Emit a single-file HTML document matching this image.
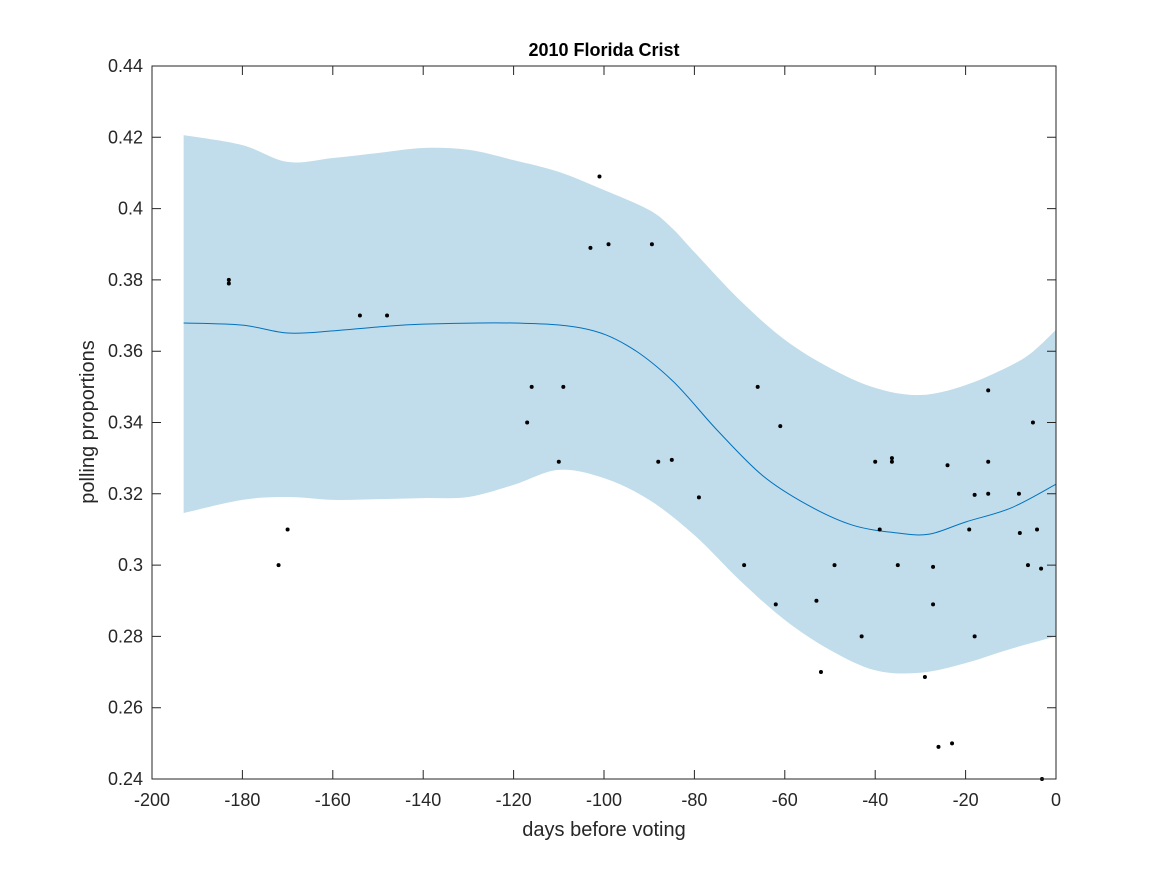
<!DOCTYPE html>
<html><head><meta charset="utf-8"><style>
body{margin:0;background:#fff}
svg{display:block;font-family:"Liberation Sans",sans-serif}
</style></head><body>
<svg id="chart" width="1167" height="875">
<g id="band"></g>
<g id="grid"></g>
<g id="pts"></g>
<rect x="152" y="66" width="904" height="713" fill="none" stroke="#262626" stroke-width="1"/>
<text x="604" y="56" text-anchor="middle" font-size="18" font-weight="bold" fill="#000">2010 Florida Crist</text>
<text x="604" y="836" text-anchor="middle" font-size="20" fill="#262626">days before voting</text>
<text transform="translate(94,422) rotate(-90)" text-anchor="middle" font-size="20" fill="#262626">polling proportions</text>
</svg>
<script>
const xTicks=[-200,-180,-160,-140,-120,-100,-80,-60,-40,-20,0];
const yTicks=[0.24,0.26,0.28,0.30,0.32,0.34,0.36,0.38,0.40,0.42,0.44];
const meanDays=[-193,-180,-170,-160,-150,-140,-120,-105,-95,-85,-75,-65,-55,-45,-35,-28,-20,-10,0];
const meanVals=[0.3679,0.3673,0.3651,0.3657,0.3668,0.3676,0.3679,0.3665,0.3617,0.3519,0.3379,0.3252,0.3169,0.3112,0.3090,0.3087,0.3121,0.3160,0.3227];
const upperDays=[-193,-180,-170,-160,-150,-140,-130,-120,-110,-100,-90,-85,-80,-70,-60,-50,-40,-30,-20,-10,-5,0];
const upperVals=[0.4206,0.4178,0.4131,0.4142,0.4156,0.4170,0.4165,0.4136,0.4103,0.4052,0.3996,0.3946,0.3878,0.3744,0.3632,0.3553,0.3497,0.3477,0.3505,0.3560,0.3600,0.3660];
const lowerDays=[-193,-180,-170,-160,-150,-140,-130,-120,-110,-100,-90,-80,-70,-60,-50,-40,-30,-20,-10,0];
const lowerVals=[0.3146,0.3183,0.3191,0.3183,0.3185,0.3188,0.3191,0.3225,0.3267,0.3244,0.3183,0.3084,0.2958,0.2846,0.2762,0.2705,0.2698,0.2725,0.2765,0.2800];
const pollDays=[-183,-183,-172,-170,-154,-148,-117,-116,-109,-110,-103,-101,-99,-89.4,-88,-85,-79,-69,-66,-62,-61,-53,-52,-49,-43,-40,-39,-36.3,-36.3,-35,-29,-27.2,-27.2,-26,-24,-23,-19.2,-18,-18,-15,-15,-15,-8.2,-8,-6.2,-5.1,-4.2,-3.3,-3.1];
const pollVals=[0.380,0.379,0.300,0.310,0.370,0.370,0.340,0.350,0.350,0.329,0.389,0.409,0.390,0.390,0.329,0.3295,0.319,0.300,0.350,0.289,0.339,0.290,0.270,0.300,0.280,0.329,0.310,0.330,0.329,0.300,0.2686,0.2995,0.289,0.249,0.328,0.250,0.310,0.3197,0.280,0.349,0.329,0.320,0.320,0.309,0.300,0.340,0.310,0.299,0.240];
const NS='http://www.w3.org/2000/svg';
const X=d=>152+(d+200)*904/200;
const Y=v=>779-(v-0.24)*713/0.2;
function cr(px,py){let s='';const n=px.length;
 for(let i=0;i<n-1;i++){const p0=i?i-1:i,p3=i+2<n?i+2:i+1;
  const c1x=px[i]+(px[i+1]-px[p0])/6,c1y=py[i]+(py[i+1]-py[p0])/6;
  const c2x=px[i+1]-(px[p3]-px[i])/6,c2y=py[i+1]-(py[p3]-py[i])/6;
  s+=` C${c1x},${c1y} ${c2x},${c2y} ${px[i+1]},${py[i+1]}`;}
 return s;}
const ux=upperDays.map(X),uy=upperVals.map(Y);
const lx=lowerDays.map(X).reverse(),ly=lowerVals.map(Y).reverse();
const band=document.createElementNS(NS,'path');
band.setAttribute('d',`M${ux[0]},${uy[0]}`+cr(ux,uy)+` L${lx[0]},${ly[0]}`+cr(lx,ly)+'Z');
band.setAttribute('fill','#c1ddeb');


document.getElementById('band').appendChild(band);
const mx=meanDays.map(X),my=meanVals.map(Y);
const ml=document.createElementNS(NS,'path');
ml.setAttribute('d',`M${mx[0]},${my[0]}`+cr(mx,my));
ml.setAttribute('fill','none');ml.setAttribute('stroke','#0072bd');ml.setAttribute('stroke-width','1');


document.getElementById('band').appendChild(ml);
const g=document.getElementById('grid');
xTicks.forEach(t=>{const x=X(t);
 const l=document.createElementNS(NS,'path');
 l.setAttribute('d',`M${x},779v-9M${x},66v9`);l.setAttribute('stroke','#262626');
 
 
 g.appendChild(l);
 const tx=document.createElementNS(NS,'text');
 tx.setAttribute('x',x);tx.setAttribute('y',806);tx.setAttribute('text-anchor','middle');tx.setAttribute('font-size','18');tx.setAttribute('fill','#262626');
 tx.textContent=t<0?'-'+(-t):String(t);
 
 
 g.appendChild(tx);});
yTicks.forEach(t=>{const y=Y(t);
 const l=document.createElementNS(NS,'path');
 l.setAttribute('d',`M152,${y}h9M1056,${y}h-9`);l.setAttribute('stroke','#262626');
 
 
 g.appendChild(l);
 const tx=document.createElementNS(NS,'text');
 tx.setAttribute('x',143);tx.setAttribute('y',y+6);tx.setAttribute('text-anchor','end');tx.setAttribute('font-size','18');tx.setAttribute('fill','#262626');
 tx.textContent=(Math.round(t*100)/100).toString();
 
 
 g.appendChild(tx);});
const pg=document.getElementById('pts');
pollDays.forEach((d,i)=>{const c=document.createElementNS(NS,'circle');
 c.setAttribute('cx',X(d));c.setAttribute('cy',Y(pollVals[i]));c.setAttribute('r',2);c.setAttribute('fill','#000');
 
 
 pg.appendChild(c);});
</script>
</body></html>
